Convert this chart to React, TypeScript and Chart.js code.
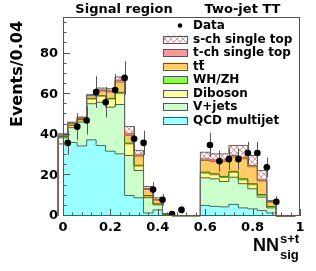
import React, { useEffect, useRef } from 'react';
import { Chart, registerables } from 'chart.js';

Chart.register(...registerables);

// ---------------- data ----------------
const binCenters = [0.02, 0.06, 0.10, 0.14, 0.18, 0.22, 0.26, 0.30, 0.34, 0.38, 0.42, 0.46, 0.50, 0.54, 0.58, 0.62, 0.66, 0.70, 0.74, 0.78, 0.82, 0.86, 0.90, 0.94, 0.98];
const binLabels = binCenters.map((c) => c.toFixed(2));

const qcd = [35.5, 36.2, 34.5, 37.5, 34.7, 31.9, 30.6, 10.1, 9.0, 1.5, 3.0, 0.3, 0, 0, 0, 5.2, 4.7, 4.5, 5.7, 4.0, 3.5, 2.7, 1.5, 0, 0];
const vjets = [3.0, 7.3, 11.8, 17.8, 21.3, 21.7, 24.3, 19.7, 13.4, 7.5, 2.5, 0.4, 0.2, 0.2, 0.2, 13.6, 13.6, 12.5, 13.4, 11.9, 9.9, 6.6, 2.5, 0, 0];
const diboson = [0.5, 1.0, 1.0, 2.3, 3.0, 4.0, 5.5, 5.7, 2.2, 0.8, 0.4, 0.1, 0, 0, 0, 2.3, 2.0, 2.0, 2.4, 1.9, 2.0, 0.9, 0.5, 0, 0];
const whzh = [0.2, 0.2, 0.2, 0.3, 0.3, 0.3, 0.5, 0.4, 0.4, 0.3, 0.1, 0, 0, 0, 0, 0.5, 0.5, 0.5, 0.5, 0.5, 0.5, 0.4, 0.2, 0, 0];
const ttbar = [0.5, 0.8, 0.6, 1.3, 2.2, 3.2, 5.0, 3.8, 4.5, 3.0, 1.8, 0.3, 0, 0, 0, 5.7, 6.0, 7.3, 7.0, 9.9, 8.3, 6.6, 2.1, 0, 0];
const tchan = [0.3, 0.4, 0.3, 0.3, 0.6, 0.6, 1.0, 0.8, 0.6, 0.4, 0.3, 0.1, 0, 0, 0, 0.8, 0.8, 0.8, 0.8, 0.8, 0.7, 0.6, 0.3, 0, 0];
const schan = [0.5, 0.3, 0.3, 0.3, 0.9, 1.0, 1.5, 3.6, 2.2, 1.0, 0.9, 0, 0, 0, 0, 3.3, 3.0, 3.0, 4.9, 5.7, 4.9, 4.6, 0.5, 0, 0];

const dataCounts: (number | null)[] = [36, 44, 47, 61, 56, 62, 68, 38, 36, 13, 8, 1, 3, null, null, 35, 27, 28, 28, 31, 31, 24, 7, null, null];

const xTickValues = [0, 0.2, 0.4, 0.6, 0.8, 1];
const yTickValues = [0, 20, 40, 60, 80];
const regionTitles = ['Signal region', 'Two-jet TT'];
const xTitle = 'NN';
const xTitleSup = 's+t';
const xTitleSub = 'sig';
const yTitle = 'Events/0.04';

const TICK_FONT = { family: 'DejaVu Sans', weight: 'bold' as const, size: 13 };

function makeHatch(): CanvasPattern | string {
  const c = document.createElement('canvas');
  c.width = 6;
  c.height = 6;
  const g = c.getContext('2d');
  if (!g) return '#ffdddd';
  g.fillStyle = '#ffffff';
  g.fillRect(0, 0, 6, 6);
  g.fillStyle = '#ff8c8c';
  for (let i = 0; i < 6; i++) {
    g.fillRect(i, i, 1, 1);
    g.fillRect(5 - i, i, 1, 1);
  }
  const p = g.createPattern(c, 'repeat');
  return p || '#ffdddd';
}

export default function App() {
  const ref = useRef<HTMLCanvasElement | null>(null);

  useEffect(() => {
    document.body.style.margin = '0';
    const canvas = ref.current;
    if (!canvas) return;
    const hatch = makeHatch();

    const layers = [
      { label: 'QCD multijet', data: qcd, fill: '#99ffff', line: '#3d7070' },
      { label: 'V+jets', data: vjets, fill: '#ccffcc', line: '#3d6b3d' },
      { label: 'Diboson', data: diboson, fill: '#ffff99', line: '#8a8a2a' },
      { label: 'WH/ZH', data: whzh, fill: '#88ff44', line: '#3a7a10' },
      { label: 'tt', data: ttbar, fill: '#ffcc66', line: '#a87010' },
      { label: 't-ch single top', data: tchan, fill: '#ff9999', line: '#b05050' },
      { label: 's-ch single top', data: schan, fill: hatch, line: '#666666' },
    ];

    const scatterPoints = binCenters
      .map((c, i) => ({ x: c, y: dataCounts[i] }))
      .filter((p) => p.y !== null) as { x: number; y: number }[];

    const scatterIndex = layers.length;
    const nBins = binCenters.length;

    const decor = {
      id: 'hepDecor',
      beforeDatasetDraw(chart: any, args: any) {
        if (args.index !== scatterIndex) return;
        const ctx = chart.ctx as CanvasRenderingContext2D;
        const ys = chart.scales.y;
        const xl = chart.scales.xl;
        const xs = chart.scales.x;
        const zero = ys.getPixelForValue(0);
        const half = (xs.right - xs.left) / nBins / 2;
        // step outlines for each cumulative layer
        for (let d = 0; d < layers.length; d++) {
          const meta = chart.getDatasetMeta(d);
          const els = meta.data as any[];
          ctx.save();
          ctx.strokeStyle = layers[d].line;
          ctx.lineWidth = 1;
          ctx.beginPath();
          const first = els[0];
          ctx.moveTo(first.x - half, zero);
          for (let i = 0; i < els.length; i++) {
            const e = els[i];
            ctx.lineTo(e.x - half, e.y);
            ctx.lineTo(e.x + half, e.y);
          }
          const last = els[els.length - 1];
          ctx.lineTo(last.x + half, zero);
          ctx.stroke();
          ctx.restore();
        }
        // error bars
        ctx.save();
        ctx.strokeStyle = '#555555';
        ctx.lineWidth = 1;
        for (const p of scatterPoints) {
          const err = Math.sqrt(p.y);
          const px = Math.round(xl.getPixelForValue(p.x)) + 0.5;
          ctx.beginPath();
          ctx.moveTo(px, ys.getPixelForValue(Math.max(0, p.y - err)));
          ctx.lineTo(px, ys.getPixelForValue(p.y + err));
          ctx.stroke();
        }
        ctx.restore();
      },
      afterDraw(chart: any) {
        const ctx = chart.ctx as CanvasRenderingContext2D;
        const a = chart.chartArea;
        const ys = chart.scales.y;
        const xl = chart.scales.xl;
        ctx.save();
        // frame
        ctx.strokeStyle = '#555555';
        ctx.lineWidth = 1;
        ctx.strokeRect(Math.round(a.left) + 0.5, Math.round(a.top) + 0.5, Math.round(a.right - a.left) - 1, Math.round(a.bottom - a.top) - 1);
        // y ticks (inside)
        ctx.beginPath();
        for (let v = 0; v <= 95; v += 5) {
          const py = Math.round(ys.getPixelForValue(v)) - 0.5;
          const len = v % 20 === 0 ? 7 : 3.5;
          ctx.moveTo(a.left, py);
          ctx.lineTo(a.left + len, py);
        }
        // x ticks (inside)
        for (let k = 0; k <= 25; k++) {
          const v = k * 0.04;
          const px = Math.round(xl.getPixelForValue(v)) + 0.5;
          const len = k % 5 === 0 ? 7 : 3.5;
          ctx.moveTo(px, a.bottom);
          ctx.lineTo(px, a.bottom - len);
        }
        ctx.stroke();

        // region titles
        ctx.fillStyle = '#000';
        ctx.font = 'bold 13px "DejaVu Sans"';
        ctx.textAlign = 'center';
        ctx.textBaseline = 'alphabetic';
        ctx.fillText(regionTitles[0], 124, 12.5);
        ctx.fillText(regionTitles[1], 242.5, 12.5);

        // y title
        ctx.save();
        ctx.translate(22, 74);
        ctx.rotate(-Math.PI / 2);
        ctx.font = 'bold 16px "DejaVu Sans"';
        ctx.textAlign = 'center';
        ctx.fillText(yTitle, 0, 0);
        ctx.restore();

        // x title
        ctx.textAlign = 'left';
        ctx.font = 'bold 18px "Liberation Sans"';
        ctx.fillText(xTitle, 253, 250.5);
        ctx.font = 'bold 13px "Liberation Sans"';
        ctx.fillText(xTitleSup, 280, 243);
        ctx.fillText(xTitleSub, 280, 259);

        // legend
        const rowY0 = 25.5;
        const step = 13.5;
        const sx = 163;
        const sw = 24;
        const sh = 7;
        const tx = 193;
        ctx.font = 'bold 12px "DejaVu Sans"';
        ctx.textBaseline = 'middle';
        ctx.fillStyle = '#000';
        ctx.beginPath();
        ctx.arc(180, rowY0, 2.3, 0, Math.PI * 2);
        ctx.fill();
        ctx.fillText('Data', tx, rowY0 + 0.5);
        const order = [6, 5, 4, 3, 2, 1, 0];
        order.forEach((li, k) => {
          const y = rowY0 + step * (k + 1);
          const L = layers[li];
          ctx.fillStyle = L.fill as any;
          ctx.fillRect(sx, y - sh / 2, sw, sh);
          ctx.strokeStyle = '#555';
          ctx.lineWidth = 1;
          ctx.strokeRect(sx + 0.5, Math.round(y - sh / 2) + 0.5, sw, sh);
          ctx.fillStyle = '#000';
          ctx.fillText(L.label, tx, y + 0.5);
          if (L.label === 'tt') {
            const w = ctx.measureText('t').width;
            ctx.fillRect(tx + w + 0.5, y - 6, w - 1, 1.2);
          }
        });
        ctx.restore();
      },
    };

    const chart = new Chart(canvas, {
      type: 'bar',
      data: {
        labels: binLabels,
        datasets: [
          ...layers.map((L) => ({
            type: 'bar' as const,
            label: L.label,
            data: L.data,
            backgroundColor: L.fill as any,
            borderWidth: 0,
            xAxisID: 'x',
            yAxisID: 'y',
            barThickness: 9.6,
            barPercentage: 1,
            categoryPercentage: 1,
            order: 1,
          })),
          {
            type: 'scatter' as const,
            label: 'Data',
            data: scatterPoints as any,
            xAxisID: 'xl',
            yAxisID: 'y',
            pointRadius: 3.3,
            pointBackgroundColor: '#000',
            pointBorderWidth: 0,
            showLine: false,
            order: 0,
          } as any,
        ],
      },
      options: {
        responsive: false,
        animation: false,
        devicePixelRatio: 1,
        layout: { padding: { top: 17, right: 16, left: 0, bottom: 0 } },
        plugins: { legend: { display: false }, tooltip: { enabled: false }, title: { display: false } },
        scales: {
          x: { type: 'category', display: false, stacked: true, offset: true, grid: { display: false, offset: true } },
          xl: {
            type: 'linear',
            position: 'bottom',
            min: 0,
            max: 1,
            offset: false,
            grid: { display: false, drawTicks: false, offset: false },
            border: { display: false },
            afterBuildTicks: (s: any) => {
              s.ticks = xTickValues.map((v) => ({ value: v }));
            },
            afterFit: (s: any) => {
              s.height = 55;
            },
            ticks: {
              font: TICK_FONT,
              color: '#000',
              padding: 4,
              maxRotation: 0,
              autoSkip: false,
              callback: (v: any) => String(Math.round(Number(v) * 10) / 10),
            },
          },
          y: {
            type: 'linear',
            stacked: true,
            min: 0,
            max: 98,
            grid: { display: false, drawTicks: false },
            border: { display: false },
            afterBuildTicks: (s: any) => {
              s.ticks = yTickValues.map((v) => ({ value: v }));
            },
            afterFit: (s: any) => {
              s.width = 63;
            },
            ticks: { font: TICK_FONT, color: '#000', padding: 5 },
          },
        } as any,
      },
      plugins: [decor as any],
    });

    return () => chart.destroy();
  }, []);

  return (
    <div style={{ width: 316, height: 271 }}>
      <canvas ref={ref} width={316} height={271} />
    </div>
  );
}
